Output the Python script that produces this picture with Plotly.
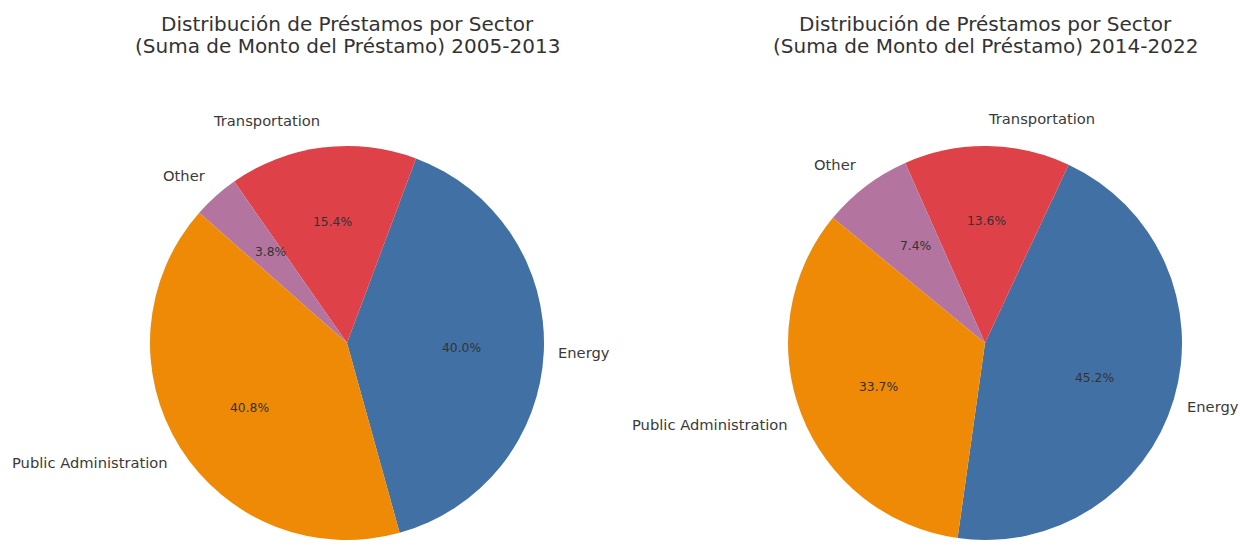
import math
import plotly.graph_objects as go

# ---- data ----
sectors = ["Energy", "Transportation", "Other", "Public Administration"]
share_2005_2013 = [40.0, 15.4, 3.8, 40.8]
share_2014_2022 = [45.2, 13.6, 7.4, 33.7]
periods = ["2005-2013", "2014-2022"]
title_line1 = "Distribución de Préstamos por Sector"
title_line2 = "(Suma de Monto del Préstamo) {}"

# ---- style / layout ----
colors = ["#4170a5", "#de4148", "#b374a0", "#ee8a05"]
FONT = "DejaVu Sans"
W, H = 1240, 546
centers = [(347, 343), (985, 343)]  # page pixels
R = 197            # pie radius (px)
RX, RY = 191, 204  # geometry used for text placement
start_angles = [-74.5, -98.0]  # degrees, math convention (first slice start, ccw)


def px_x(X):
    return X / W


def px_y(Y):
    return 1 - Y / H


fig = go.Figure()
annotations = []

for i, (vals, period) in enumerate(zip([share_2005_2013, share_2014_2022], periods)):
    cx, cy = centers[i]
    total = sum(vals)
    first_deg = 360.0 * vals[0] / total
    # plotly (counterclockwise): first slice lies clockwise of the rotation line
    rot = 90 - (start_angles[i] + first_deg)
    fig.add_trace(go.Pie(
        labels=sectors, values=vals, sort=False,
        direction="counterclockwise", rotation=rot,
        marker=dict(colors=colors, line=dict(width=0)),
        textinfo="none", hoverinfo="label+percent", showlegend=False,
        domain=dict(x=[px_x(cx - R), px_x(cx + R)],
                    y=[px_y(cy + R), px_y(cy - R)]),
    ))
    a = start_angles[i]
    for s, v in zip(sectors, vals):
        span = 360.0 * v / total
        mid = math.radians(a + span / 2)
        a += span
        c, sn = math.cos(mid), math.sin(mid)
        # outer label
        lx = cx + 1.1 * RX * c
        ly = cy - 1.1 * RY * sn
        annotations.append(dict(
            x=px_x(lx), y=px_y(ly), xref="paper", yref="paper",
            text=s, showarrow=False, borderpad=0,
            xanchor="left" if c > 0 else "right", yanchor="middle",
            font=dict(family=FONT, size=14.7, color="#3a3a3a")))
        # percentage label
        tx = cx + 0.6 * RX * c
        ty = cy - 0.6 * RY * sn
        annotations.append(dict(
            x=px_x(tx), y=px_y(ty), xref="paper", yref="paper",
            text="{:.1f}%".format(100.0 * v / total), showarrow=False,
            xanchor="center", yanchor="middle",
            font=dict(family=FONT, size=12.3, color="#333333")))
    # titles
    annotations.append(dict(
        x=px_x(cx), y=px_y(24), xref="paper", yref="paper",
        text=title_line1, showarrow=False, xanchor="center", yanchor="middle",
        font=dict(family=FONT, size=20, color="#333333")))
    annotations.append(dict(
        x=px_x(cx), y=px_y(46), xref="paper", yref="paper",
        text=title_line2.format(period), showarrow=False, xanchor="center", yanchor="middle",
        font=dict(family=FONT, size=20, color="#333333")))

fig.update_layout(
    width=W, height=H,
    margin=dict(l=0, r=0, t=0, b=0, pad=0),
    paper_bgcolor="white", plot_bgcolor="white",
    annotations=annotations,
    font=dict(family=FONT),
)

fig.write_html("out.html",
               config={"displayModeBar": False},
               post_script="document.body.style.margin='0px';document.body.style.overflow='hidden';")
